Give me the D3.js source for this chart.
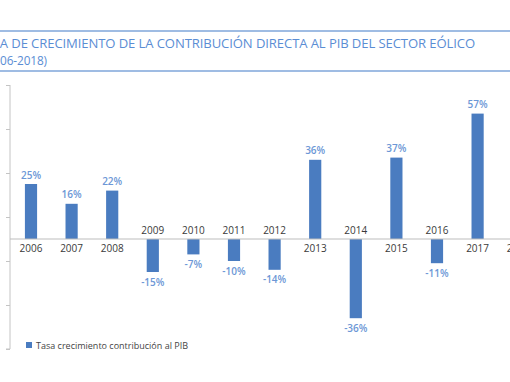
<!DOCTYPE html>
<html lang="es">
<head>
<meta charset="UTF-8">
<title>Tasa de crecimiento</title>
<script src="https://d3js.org/d3.v7.min.js"></script>
<style>
  html, body { margin: 0; padding: 0; background: #fff; overflow: hidden; }
  svg { display: block; font-family: "Open Sans", sans-serif; }
</style>
</head>
<body>
<div id="chart"></div>
<script>
// data
const years = ["2006","2007","2008","2009","2010","2011","2012","2013","2014","2015","2016","2017","2018"];
const growth = [25, 16, 22, -15, -7, -10, -14, 36, -36, 37, -11, 57, 6];
const tickValues = [-50, -30, -10, 10, 30, 50, 70];
const titleLines = ["TASA DE CRECIMIENTO DE LA CONTRIBUCIÓN DIRECTA AL PIB DEL SECTOR EÓLICO", "(2006-2018)"];
const legendLabel = "Tasa crecimiento contribución al PIB";

const W = 510, H = 382;
const barColor = "#4a7cc0";
const labelColor = "#6c97d6";

const svg = d3.select("#chart").append("svg")
    .attr("width", W)
    .attr("height", H);

// title block with rules
svg.append("line").attr("x1", 0).attr("x2", W).attr("y1", 31).attr("y2", 31)
    .attr("stroke", "#7fa6da").attr("stroke-width", 1.5);
svg.append("line").attr("x1", 0).attr("x2", W).attr("y1", 71).attr("y2", 71)
    .attr("stroke", "#7fa6da").attr("stroke-width", 1.5);

// the title is cut at the left edge in the picture: scale the font so the
// visible part ("A DE ..." / "06-2018)") fills the same width
function titleText(str, hidden, right, baseline, visibleWidth) {
    const t = svg.append("text")
        .attr("x", right).attr("y", baseline)
        .attr("text-anchor", "end")
        .attr("fill", "#5a8dd4")
        .style("font-size", "12px")
        .style("letter-spacing", "-0.1px")
        .text(str);
    const w = t.node().getSubStringLength(hidden, str.length - hidden);
    t.style("font-size", (12 * visibleWidth / w).toFixed(2) + "px");
    return t;
}
titleText(titleLines[0], 3, 475, 47.5, 475);
titleText(titleLines[1], 3, 47, 64.5, 47);

// scales
const x = d3.scaleBand()
    .domain(years)
    .range([10.7, 10.7 + 40.6 * years.length])
    .paddingInner(0.7)
    .paddingOuter(0.35);

const y = d3.scaleLinear()
    .domain([-50, 70])
    .range([349, 85]);

// axis
const axis = svg.append("g")
    .attr("transform", "translate(10,0)")
    .call(d3.axisLeft(y).tickValues(tickValues).tickSize(4).tickFormat(""));
axis.select(".domain").attr("stroke", "#c4c4c4").attr("d", `M-4,${y(-50)}H0V${y(70)}`);
axis.selectAll(".tick line").attr("stroke", "#c4c4c4");

// bars
svg.selectAll("rect.bar")
    .data(growth)
    .join("rect")
    .attr("class", "bar")
    .attr("x", (d, i) => x(years[i]))
    .attr("width", x.bandwidth())
    .attr("y", d => y(Math.max(0, d)))
    .attr("height", d => Math.abs(y(d) - y(0)))
    .attr("fill", barColor);

// zero line
svg.append("line")
    .attr("x1", 10).attr("x2", W)
    .attr("y1", y(0)).attr("y2", y(0))
    .attr("stroke", "#bdbdbd").attr("stroke-width", 1);

// category labels
svg.selectAll("text.cat")
    .data(growth)
    .join("text")
    .attr("class", "cat")
    .attr("x", (d, i) => x(years[i]) + x.bandwidth() / 2)
    .attr("y", d => d >= 0 ? y(0) + 13 : y(0) - 5)
    .attr("text-anchor", "middle")
    .attr("fill", "#3a3a3a")
    .style("font-size", "10px")
    .text((d, i) => years[i]);

// value labels
svg.selectAll("text.val")
    .data(growth)
    .join("text")
    .attr("class", "val")
    .attr("x", (d, i) => x(years[i]) + x.bandwidth() / 2)
    .attr("y", d => d >= 0 ? y(d) - 5.5 : y(d) + 13.5)
    .attr("text-anchor", "middle")
    .attr("fill", labelColor)
    .style("font-size", "10px")
    .style("font-weight", "600")
    .text(d => d + "%");

// legend
const legend = svg.append("g").attr("transform", "translate(26,342)");
legend.append("rect").attr("width", 6).attr("height", 6).attr("fill", barColor);
legend.append("text")
    .attr("x", 10).attr("y", 6.5)
    .attr("fill", "#444")
    .style("font-size", "9px")
    .text(legendLabel);
</script>
</body>
</html>
